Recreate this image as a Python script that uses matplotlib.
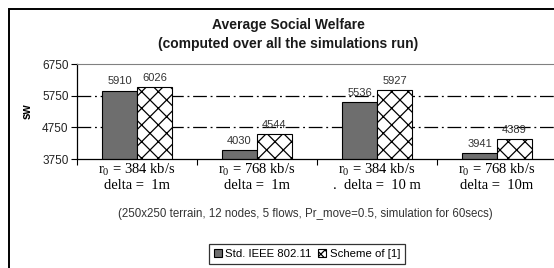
"""Average social welfare bar chart."""

import matplotlib
matplotlib.use("Agg")
import matplotlib.pyplot as plt
from matplotlib.patches import Rectangle, Patch
import numpy as np

plt.rcParams["font.family"] = ["Liberation Sans", "DejaVu Sans"]
plt.rcParams["mathtext.fontset"] = "custom"
plt.rcParams["mathtext.rm"] = "Liberation Serif"
plt.rcParams["mathtext.it"] = "Liberation Serif:italic"
plt.rcParams["hatch.linewidth"] = 0.9

categories = [
    "r$_0$ = 384 kb/s\ndelta =  1m",
    "r$_0$ = 768 kb/s\ndelta =  1m",
    "r$_0$ = 384 kb/s\n.  delta =  10 m",
    "r$_0$ = 768 kb/s\ndelta =  10m",
]
std_ieee = [5910, 4030, 5536, 3941]
scheme = [6026, 4544, 5927, 4389]
y_ticks = [3750, 4750, 5750, 6750]
grid_levels = [4750, 5750]

W, H = 554, 268
fig = plt.figure(figsize=(W / 100, H / 100), dpi=100)

# outer frame (cut off at right and bottom in the original)
fig.patches.append(Rectangle((9 / W, -0.1), 1.2, (H - 8.5) / H + 0.1,
                             transform=fig.transFigure, fill=False,
                             edgecolor="black", linewidth=1.4))

ax = fig.add_axes([77 / W, (H - 159) / H, 480 / W, 95 / H])

x = np.arange(len(categories)) + 0.5
w = 35 / 120
ax.bar(x - w / 2, std_ieee, width=w, color="#6e6e6e", edgecolor="black",
       linewidth=0.8)
ax.bar(x + w / 2, scheme, width=w, color="white", edgecolor="black",
       linewidth=0.8, hatch="xx")

for xi, v in zip(x - w / 2, std_ieee):
    ax.annotate(str(v), (xi, v), xytext=(0, 3), textcoords="offset points",
                ha="center", va="bottom", fontsize=8, color="#333333")
for xi, v in zip(x + w / 2, scheme):
    ax.annotate(str(v), (xi, v), xytext=(0, 3), textcoords="offset points",
                ha="center", va="bottom", fontsize=8, color="#333333")

for g in grid_levels:
    ax.axhline(g, color="black", linewidth=0.9,
               linestyle=(0, (11, 3, 1.5, 3)), zorder=0.5)

ax.set_xlim(0, len(categories))
ax.set_ylim(y_ticks[0], y_ticks[-1])
ax.set_yticks(y_ticks)
ax.tick_params(axis="y", labelsize=8.5, length=4, width=0.8,
               labelcolor="#222222", pad=2)

ax.set_xticks(np.arange(len(categories) + 1))
ax.set_xticklabels([])
ax.set_xticks(x, minor=True)
ax.set_xticklabels(categories, minor=True, fontfamily="Liberation Serif",
                   fontsize=10.5, linespacing=1.15)
ax.tick_params(axis="x", which="major", length=4, width=0.8)
ax.tick_params(axis="x", which="minor", length=0, pad=2)

ax.spines["left"].set_linewidth(0.9)
ax.spines["bottom"].set_linewidth(0.9)
ax.spines["top"].set_color("#808080")
ax.spines["right"].set_color("#808080")
ax.spines["top"].set_linewidth(0.8)

ax.set_ylabel("sw", fontsize=8.5, fontweight="bold", labelpad=6)

fig.text(288 / W, 1 - 25 / H, "Average Social Welfare", ha="center",
         va="center", fontsize=10, fontweight="bold", color="#1a1a1a")
fig.text(288 / W, 1 - 44 / H, "(computed over all the simulations run)",
         ha="center", va="center", fontsize=10, fontweight="bold",
         color="#1a1a1a")
fig.text(305 / W, 1 - 214 / H,
         "(250x250 terrain, 12 nodes, 5 flows, Pr_move=0.5, simulation for 60secs)",
         ha="center", va="center", fontsize=8.3, color="#333333")

handles = [Patch(facecolor="#6e6e6e", edgecolor="black", linewidth=0.8),
           Patch(facecolor="white", edgecolor="black", linewidth=0.8,
                 hatch="xxxx")]
leg = fig.legend(handles, ["Std. IEEE 802.11", "Scheme of [1]"],
                 loc="center", bbox_to_anchor=(307 / W, 1 - 254 / H), ncol=2,
                 fontsize=8.2, frameon=True, fancybox=False, handlelength=0.7,
                 handleheight=0.7, handletextpad=0.3, columnspacing=0.6,
                 borderpad=0.45, borderaxespad=0)
leg.get_frame().set_edgecolor("black")
leg.get_frame().set_linewidth(0.9)

fig.savefig("out.png", dpi=100)
